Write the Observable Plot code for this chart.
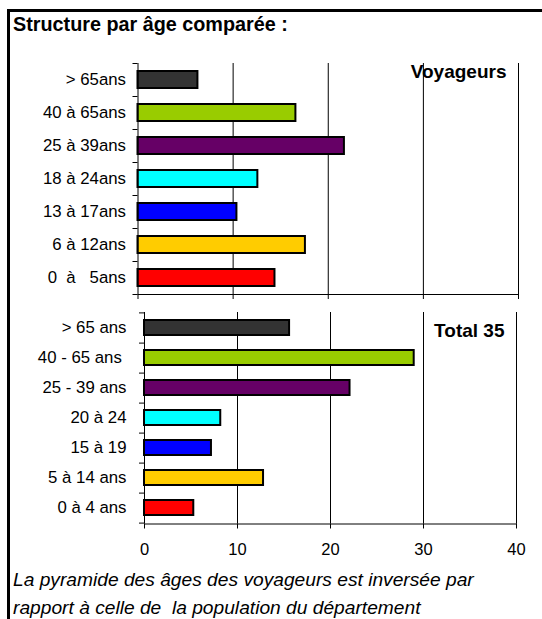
<!DOCTYPE html>
<html><head><meta charset="utf-8">
<script src="https://cdn.jsdelivr.net/npm/d3@7"></script>
<script src="https://cdn.jsdelivr.net/npm/@observablehq/plot@0.6"></script>
<style>
html,body{margin:0;padding:0;background:#fff;overflow:hidden;}
#page{position:relative;width:542px;height:619px;overflow:hidden;font-family:Arial,"Liberation Sans",sans-serif;color:#000;}
#frame{position:absolute;left:7px;top:9px;width:600px;height:700px;border-left:3px solid #000;border-top:3px solid #000;}
#title{position:absolute;left:13px;top:15px;font-weight:bold;font-size:19.8px;line-height:19px;white-space:nowrap;}
#caption{position:absolute;left:13px;top:566px;font-style:italic;font-size:19.2px;line-height:28px;white-space:pre;}
.plotwrap{position:absolute;left:0;}
</style></head>
<body><div id="page"><div id="frame"></div><div id="title">Structure par âge comparée :</div>
<div id="top" class="plotwrap" style="top:50px"></div>
<div id="bottom" class="plotwrap" style="top:302px"></div>
<div id="caption">La pyramide des âges des voyageurs est inversée par
rapport à celle de  la population du département</div></div>
<script>
const voyageursAges = ["0  à   5ans","6 à 12ans","13 à 17ans","18 à 24ans","25 à 39ans","40 à 65ans","> 65ans"];
const voyageursValues = [14.4, 17.6, 10.4, 12.6, 21.7, 16.6, 6.3];
const totalAges = ["0 à 4 ans","5 à 14 ans","15 à 19","20 à 24","25 - 39 ans","40 - 65 ans ","> 65 ans"];
const totalValues = [5.3, 12.8, 7.2, 8.2, 22.1, 29.0, 15.6];
const barColors = ["#FF0000","#FFCC00","#0000FF","#00FFFF","#660066","#99CC00","#333333"];
const xTicks = [0, 10, 20, 30, 40];
const panelTitles = ["Voyageurs", "Total 35"];

function panel(ages, values, title, o) {
  const data = ages.map((a, i) => ({age: a, value: values[i], color: barColors[i]}));
  const plotH = o.height - o.marginTop - o.marginBottom;
  const step = plotH / ages.length;
  return Plot.plot({
    width: 542,
    height: o.height,
    marginLeft: o.marginLeft,
    marginRight: o.marginRight,
    marginTop: o.marginTop,
    marginBottom: o.marginBottom,
    style: {background: "transparent", fontFamily: "Arial, 'Liberation Sans', sans-serif", fontSize: "16px", color: "#000", overflow: "visible"},
    x: {domain: [0, 40]},
    y: {domain: ages.slice().reverse(), paddingInner: 0.5, paddingOuter: 0.25},
    color: {type: "identity"},
    marks: [
      Plot.gridX(xTicks.slice(1), {stroke: "#000", strokeOpacity: 1, strokeWidth: 1}),
      Plot.barX(data, {x: "value", y: "age", fill: "color", stroke: "#000", strokeWidth: 2}),
      Plot.ruleX([0], {stroke: "#000"}),
      Plot.frame({anchor: "bottom", stroke: "#000"}),
      Plot.axisX(xTicks, {tickSize: 5, tickPadding: 14, label: null, text: o.xLabels ? undefined : null, fontSize: 16.5}),
      Plot.axisY({tickSize: 0, tickPadding: o.labelPad, label: null, fontSize: 16.8}),
      Plot.axisY({text: null, tickSize: 5, dy: step / 2, label: null}),
      Plot.axisY([ages[ages.length - 1]], {text: null, tickSize: 5, dy: -step / 2, label: null}),
      Plot.text([title], {text: d => d, frameAnchor: "top-right", lineAnchor: "top", fontWeight: "bold", fontSize: 19, dx: -12, dy: o.titleDy})
    ]
  });
}

document.getElementById("top").append(panel(voyageursAges, voyageursValues, panelTitles[0],
  {height: 252, marginTop: 13, marginBottom: 8, marginLeft: 137.5, marginRight: 24, labelPad: 12, xLabels: false, titleDy: 1}));
document.getElementById("bottom").append(panel(totalAges, totalValues, panelTitles[1],
  {height: 260, marginTop: 10, marginBottom: 38.5, marginLeft: 144, marginRight: 26, labelPad: 18, xLabels: true, titleDy: 11}));
</script>
</body></html>
